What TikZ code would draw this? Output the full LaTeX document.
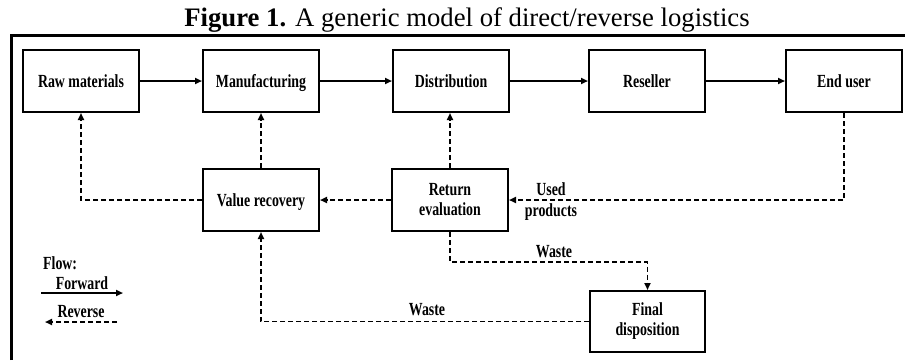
\documentclass[tikz,border=0pt]{standalone}
\usepackage{fontspec}
\setmainfont{Liberation Serif}
\newfontfamily\bxfont[FakeStretch=0.75]{Liberation Serif}
\usetikzlibrary{arrows.meta}
\begin{document}
\begin{tikzpicture}[x=1pt,y=-1pt,
  box/.style={draw, line width=2pt, minimum width=116pt, minimum height=62pt, inner sep=0pt, align=center, font=\bxfont\bfseries\fontsize{18.5}{20}\selectfont},
  single/.style={text height=14pt, text depth=1pt},
  lbl/.style={font=\bxfont\bfseries\fontsize{18.5}{21}\selectfont, inner sep=0pt, align=center},
  fwd/.style={line width=1.8pt, -{Triangle[length=7pt,width=6pt]}},
  rev/.style={line width=1.7pt, dash pattern=on 5pt off 3pt, -{Triangle[length=7pt,width=6pt]}},
]
\useasboundingbox (0,0) rectangle (905,360);
\fill[white] (0,0) rectangle (905,360);
% title
\node[anchor=base, font=\fontsize{26.7}{30}\selectfont, inner sep=0pt] (title) at (467,26) {\textbf{Figure 1.} A generic model of direct/reverse logistics};
% frame
\draw[line width=3.5pt, line join=miter] (11.5,360) -- (11.5,35.5) -- (905,35.5);
% forward chain
\node[box, single] (raw) at (81,81) {Raw materials};
\node[box, single] (manu) at (261,81) {Manufacturing};
\node[box, single] (dist) at (451,81) {Distribution};
\node[box, single] (res) at (647,81) {Reseller};
\node[box, single] (eu) at (844,81) {End user};
% reverse
\node[box, single] (vr) at (261,200) {Value recovery};
\node[box] (re) at (450,200) {Return\\evaluation};
\node[box, minimum width=115pt, minimum height=61pt] (fd) at (647.5,321.5) {Final\\disposition};
% forward arrows
\draw[fwd] (raw) -- (manu);
\draw[fwd] (manu) -- (dist);
\draw[fwd] (dist) -- (res);
\draw[fwd] (res) -- (eu);
% reverse arrows
\draw[rev] (vr.north) -- (manu.south);
\draw[rev] (re.north) -- (re.north |- dist.south);
\draw[rev] (vr.west) -| (raw.south);
\draw[rev] (re.west) -- (vr.east);
\draw[rev] (eu.south) |- (re.east);
\draw[rev] (re.south) -- ++(0,30) -| (fd.north);
\draw[rev] (fd.west) -| (vr.south);
% labels
\node[lbl] (used) at (551,201.5) {Used\\products};
\node[lbl] (w1) at (554,252) {Waste};
\node[lbl] (w2) at (427,310) {Waste};
% legend
\node[lbl, anchor=west] (flow) at (43,263) {Flow:};
\node[lbl] (fw) at (82,283) {Forward};
\coordinate (fa) at (41,293);
\coordinate (fb) at (123,293);
\draw[fwd] (fa) -- (fb);
\node[lbl] (rv) at (81,312) {Reverse};
\coordinate (ra) at (117,322);
\coordinate (rb) at (45,322);
\draw[rev] (ra) -- (rb);
\end{tikzpicture}
\end{document}
